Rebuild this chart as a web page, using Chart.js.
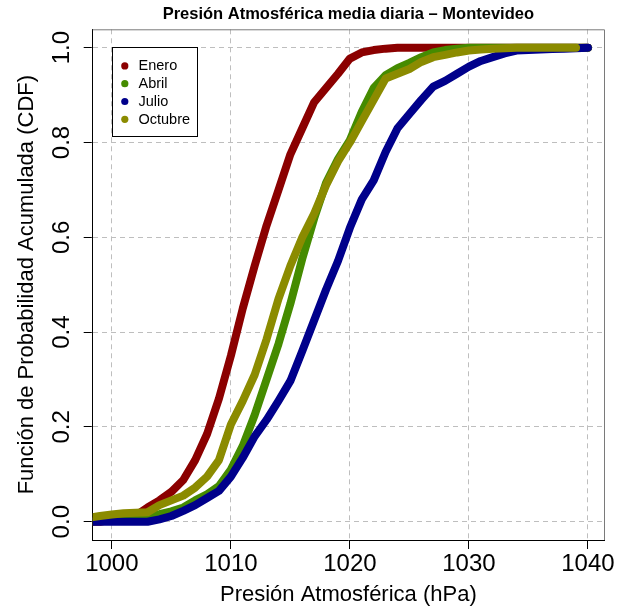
<!DOCTYPE html>
<html><head><meta charset="utf-8">
<script src="https://cdn.jsdelivr.net/npm/chart.js@4/dist/chart.umd.min.js"></script>
<style>html,body{margin:0;padding:0;background:#fff}canvas{display:block}</style>
</head><body>
<canvas id="c" width="630" height="612"></canvas>
<script>
const pressure = [998,999,1000,1001,1002,1003,1004,1005,1006,1007,1008,1009,1010,1011,1012,1013,1014,1015,1016,1017,1018,1019,1020,1021,1022,1023,1024,1025,1026,1027,1028,1029,1030,1031,1032,1033,1034,1035,1036,1037,1038,1039,1040];
const enero = [0,0,0.005,0.01,0.013,0.03,0.045,0.063,0.088,0.13,0.185,0.26,0.35,0.45,0.54,0.625,0.70,0.775,0.83,0.885,0.915,0.945,0.977,0.99,0.995,0.998,1,1,1,1,1,1,1,1,1,1,1,1,1,1,1,1,1];
const abril = [0,0.002,0.005,0.008,0.01,0.012,0.016,0.022,0.03,0.045,0.058,0.075,0.11,0.16,0.225,0.30,0.375,0.46,0.555,0.64,0.715,0.765,0.805,0.865,0.915,0.942,0.957,0.968,0.98,0.99,0.995,0.998,1,1,1,1,1,1,1,1,1,1,1];
const julio = [0,0,0,0,0,0,0.005,0.012,0.023,0.035,0.05,0.065,0.095,0.135,0.18,0.215,0.255,0.297,0.36,0.425,0.49,0.55,0.62,0.68,0.72,0.78,0.83,0.86,0.89,0.918,0.93,0.945,0.96,0.972,0.98,0.988,0.994,0.995,0.996,0.997,0.998,0.999,1.0];
const octubre = [0.008,0.012,0.015,0.018,0.019,0.02,0.035,0.045,0.055,0.072,0.095,0.13,0.205,0.255,0.31,0.385,0.47,0.54,0.60,0.65,0.71,0.76,0.80,0.845,0.89,0.935,0.945,0.955,0.97,0.98,0.985,0.99,0.994,0.996,0.998,0.999,1,1,1,1,1,1,null];
const seriesNames = ['Enero','Abril','Julio','Octubre'];
const seriesColors = ['#8B0000','#458B00','#00008B','#8B8B00'];
const xTicks = [1000,1010,1020,1030,1040];
const yTicks = [0,0.2,0.4,0.6,0.8,1.0];

const FONT = "'Liberation Sans', Arial, Helvetica, sans-serif";
const toXY = arr => pressure.map((p,i) => ({x:p, y:arr[i]}));
const allSeries = [enero, abril, julio, octubre];

const datasets = allSeries.map((s,i) => ({
  label: seriesNames[i],
  data: toXY(s),
  borderColor: seriesColors[i],
  backgroundColor: seriesColors[i],
  order: 4 - i,
  clip: 0,
  spanGaps: false
}));

const boxPlugin = {
  id: 'boxPlugin',
  beforeDatasetsDraw(chart) {
    const {ctx, chartArea: a} = chart;
    ctx.save();
    ctx.strokeStyle = '#7a7a7a';
    ctx.lineWidth = 1;
    ctx.beginPath();
    ctx.moveTo(a.left, a.top + 0.5);
    ctx.lineTo(a.right + 0.5, a.top + 0.5);
    ctx.lineTo(a.right + 0.5, a.bottom);
    ctx.stroke();
    ctx.restore();
  }
};

const legendPlugin = {
  id: 'boxLegend',
  afterDatasetsDraw(chart) {
    const ctx = chart.ctx;
    const left = Math.round(chart.scales.x.getPixelForValue(1000)) + 0.5;
    const top = Math.round(chart.scales.y.getPixelForValue(1)) - 0.5;
    const w = 85, h = 89;
    ctx.save();
    ctx.fillStyle = '#fff';
    ctx.fillRect(left, top, w, h);
    ctx.strokeStyle = '#000';
    ctx.lineWidth = 1;
    ctx.strokeRect(left, top, w, h);
    ctx.font = '14.5px ' + FONT;
    ctx.textBaseline = 'middle';
    ctx.textAlign = 'left';
    chart.data.datasets.forEach((ds, i) => {
      const y = top + 18.4 + i * 17.8;
      ctx.fillStyle = ds.borderColor;
      ctx.beginPath();
      ctx.arc(left + 12.3, y, 3.6, 0, Math.PI * 2);
      ctx.fill();
      ctx.fillStyle = '#000';
      ctx.fillText(ds.label, left + 26, y + 0.5);
    });
    ctx.restore();
  }
};

const gridOpts = {
  color: '#BEBEBE',
  lineWidth: 1,
  tickColor: '#000',
  tickLength: 9,
  tickWidth: 1,
  tickBorderDash: [8, 0],
  drawTicks: true
};

new Chart(document.getElementById('c'), {
  type: 'line',
  data: { datasets },
  plugins: [boxPlugin, legendPlugin],
  options: {
    responsive: false,
    animation: false,
    devicePixelRatio: 1,
    layout: { padding: { left: 0, right: 26, top: 0, bottom: 0 }, autoPadding: false },
    elements: {
      point: { radius: 0, hoverRadius: 0 },
      line: { borderWidth: 8, tension: 0, borderCapStyle: 'round', borderJoinStyle: 'round', fill: false }
    },
    plugins: {
      legend: { display: false },
      tooltip: { enabled: false },
      title: {
        display: true,
        text: 'Presión Atmosférica media diaria – Montevideo',
        fullSize: false,
        color: '#000',
        font: { family: FONT, size: 16.5, weight: 'bold', lineHeight: 1.2 },
        padding: { top: 4.3, bottom: 5.2 }
      }
    },
    scales: {
      x: {
        type: 'linear',
        min: 998.39, max: 1041.35,
        afterFit: s => { s.height = 72; },
        afterBuildTicks: s => { s.ticks = xTicks.map(v => ({value: v})); },
        ticks: {
          font: { family: FONT, size: 24 }, color: '#000', padding: 1,
          maxRotation: 0, minRotation: 0, autoSkip: false,
          callback: v => String(v)
        },
        grid: gridOpts,
        border: { display: true, color: '#000', width: 1, dash: [5, 4] },
        title: {
          display: true, text: 'Presión Atmosférica (hPa)', color: '#000',
          font: { family: FONT, size: 22, lineHeight: 1.2 },
          padding: { top: 0, bottom: 3.5 }
        }
      },
      y: {
        type: 'linear',
        min: -0.0386, max: 1.0388,
        afterFit: s => { s.width = 92.7; },
        afterBuildTicks: s => { s.ticks = yTicks.map(v => ({value: v})); },
        ticks: {
          font: { family: FONT, size: 24 }, color: '#000', padding: 4.5,
          minRotation: 90, maxRotation: 90, crossAlign: 'center', autoSkip: false,
          callback: v => v.toFixed(1)
        },
        grid: gridOpts,
        border: { display: true, color: '#000', width: 1, dash: [5, 4] },
        title: {
          display: true, text: 'Función de Probabilidad Acumulada (CDF)', color: '#000',
          font: { family: FONT, size: 22, lineHeight: 1.2 },
          padding: { top: 13.8, bottom: 0 }
        }
      }
    }
  }
});
</script>
</body></html>
